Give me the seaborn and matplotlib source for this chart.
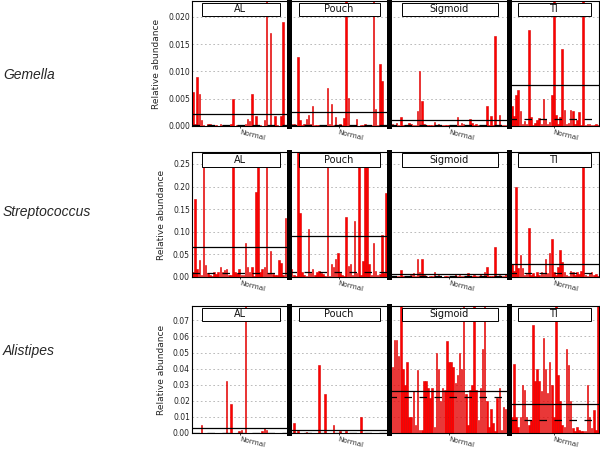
import numpy as np
import matplotlib
matplotlib.use("Agg")
import matplotlib.pyplot as plt
import seaborn as sns
from matplotlib.patches import Rectangle

# DATA (bars above the y-limit are clipped)
sites = ["AL", "Pouch", "Sigmoid", "TI"]
genera = ["Gemella", "Streptococcus", "Alistipes"]
tick_label = "Normal"

gemella_al = [0.0062, 0.0003, 0.0090, 0.0058, 0.0011, 0.0001, 0.0, 0.0003, 0.0003, 0.0001,
              0.0, 0.0001, 0.0, 0.0004, 0.0001, 0.0002, 0.0, 0.0001, 0.0003, 0.0050,
              0.0, 0.0001, 0.0001, 0.0, 0.0, 0.0004, 0.0013, 0.0009, 0.0058, 0.0002,
              0.0019, 0.0, 0.0001, 0.0, 0.0011, 0.0250, 0.0002, 0.0170, 0.0001, 0.0018,
              0.0002, 0.0, 0.0018, 0.0191, 0.0002, 0.0012]
gemella_pouch = [0.0031, 0.0003, 0.0004, 0.0001, 0.0127, 0.0011, 0.0002, 0.0004, 0.0012, 0.0020,
                 0.0003, 0.0036, 0.0001, 0.0002, 0.0001, 0.0, 0.0001, 0.0002, 0.0069, 0.0003,
                 0.0040, 0.0002, 0.0017, 0.0001, 0.0004, 0.0002, 0.0015, 0.0250, 0.0052, 0.0001,
                 0.0002, 0.0001, 0.0012, 0.0, 0.0001, 0.0002, 0.0003, 0.0001, 0.0002, 0.0001,
                 0.0250, 0.0031, 0.0002, 0.0113, 0.0082, 0.0001, 0.0002, 0.0036]
gemella_sigmoid = [0.0032, 0.0004, 0.0001, 0.0006, 0.0002, 0.0017, 0.0002, 0.0001, 0.0002, 0.0006,
                   0.0004, 0.0001, 0.0002, 0.0028, 0.0101, 0.0045, 0.0003, 0.0001, 0.0001, 0.0002,
                   0.0001, 0.0008, 0.0001, 0.0004, 0.0001, 0.0002, 0.0001, 0.0001, 0.0001, 0.0002,
                   0.0001, 0.0002, 0.0017, 0.0001, 0.0006, 0.0004, 0.0002, 0.0001, 0.0012, 0.0006,
                   0.0001, 0.0003, 0.0001, 0.0002, 0.0001, 0.0002, 0.0037, 0.0001, 0.0018, 0.0002,
                   0.0165, 0.0001, 0.0021, 0.0002, 0.0001, 0.0002, 0.0003]
gemella_ti = [0.0012, 0.0036, 0.0019, 0.0057, 0.0066, 0.0028, 0.0004, 0.0009, 0.0003, 0.0176,
              0.0016, 0.0002, 0.0006, 0.0011, 0.0014, 0.0004, 0.0049, 0.0012, 0.0003, 0.0008,
              0.0056, 0.0250, 0.0021, 0.0004, 0.0017, 0.0141, 0.0030, 0.0003, 0.0005, 0.0030,
              0.0028, 0.0003, 0.0011, 0.0026, 0.0002, 0.0250, 0.0002, 0.0003, 0.0004, 0.0002,
              0.0001, 0.0003, 0.0002]

strep_al = [0.012, 0.172, 0.018, 0.038, 0.005, 0.28, 0.026, 0.008, 0.004, 0.003,
            0.012, 0.006, 0.010, 0.023, 0.010, 0.015, 0.018, 0.004, 0.005, 0.28,
            0.010, 0.008, 0.018, 0.004, 0.005, 0.075, 0.022, 0.010, 0.022, 0.003,
            0.188, 0.28, 0.010, 0.018, 0.022, 0.28, 0.008, 0.057, 0.006, 0.005,
            0.004, 0.038, 0.030, 0.005, 0.130, 0.008]
strep_pouch = [0.035, 0.018, 0.004, 0.003, 0.28, 0.142, 0.010, 0.005, 0.002, 0.106,
               0.008, 0.018, 0.004, 0.010, 0.014, 0.008, 0.006, 0.002, 0.28, 0.003,
               0.028, 0.022, 0.040, 0.053, 0.008, 0.004, 0.002, 0.132, 0.025, 0.028,
               0.004, 0.123, 0.008, 0.28, 0.005, 0.035, 0.28, 0.28, 0.028, 0.004,
               0.075, 0.014, 0.004, 0.006, 0.093, 0.008, 0.185, 0.025]
strep_sigmoid = [0.004, 0.002, 0.001, 0.002, 0.003, 0.015, 0.002, 0.001, 0.002, 0.003,
                 0.005, 0.008, 0.002, 0.039, 0.010, 0.039, 0.005, 0.002, 0.001, 0.002,
                 0.003, 0.010, 0.002, 0.004, 0.002, 0.001, 0.003, 0.002, 0.001, 0.002,
                 0.003, 0.006, 0.002, 0.004, 0.002, 0.003, 0.002, 0.008, 0.002, 0.003,
                 0.004, 0.002, 0.003, 0.006, 0.002, 0.010, 0.022, 0.003, 0.002, 0.003,
                 0.066, 0.003, 0.004, 0.002, 0.003, 0.006, 0.002]
strep_ti = [0.008, 0.028, 0.013, 0.198, 0.020, 0.048, 0.020, 0.004, 0.006, 0.108,
            0.005, 0.008, 0.003, 0.010, 0.004, 0.010, 0.006, 0.039, 0.008, 0.054,
            0.083, 0.012, 0.004, 0.022, 0.059, 0.034, 0.010, 0.004, 0.003, 0.014,
            0.012, 0.004, 0.010, 0.006, 0.014, 0.28, 0.004, 0.003, 0.008, 0.010,
            0.004, 0.006, 0.003]

alis_al = [0.0, 0.0, 0.0, 0.0, 0.005, 0.0, 0.0, 0.0, 0.0, 0.0,
           0.0, 0.0, 0.0, 0.0, 0.0, 0.0, 0.032, 0.0, 0.018, 0.0,
           0.0, 0.0, 0.001, 0.002, 0.0, 0.085, 0.0, 0.0, 0.0, 0.0,
           0.0, 0.0, 0.0, 0.001, 0.003, 0.002, 0.0, 0.0, 0.0, 0.0003,
           0.0, 0.0, 0.0, 0.0, 0.0, 0.0]
alis_pouch = [0.0, 0.0, 0.006, 0.0, 0.001, 0.0, 0.0, 0.0, 0.0005, 0.0,
              0.0, 0.0, 0.0, 0.0, 0.042, 0.0, 0.0, 0.024, 0.0, 0.0,
              0.0, 0.005, 0.0, 0.0, 0.001, 0.0, 0.0, 0.001, 0.0, 0.0,
              0.0, 0.0, 0.0, 0.0, 0.010, 0.0, 0.0, 0.0, 0.0, 0.0002,
              0.0, 0.0, 0.0, 0.0, 0.0, 0.0, 0.0, 0.0]
alis_sigmoid = [0.045, 0.041, 0.058, 0.058, 0.048, 0.085, 0.040, 0.030, 0.044, 0.010,
                0.010, 0.026, 0.005, 0.039, 0.002, 0.002, 0.032, 0.032, 0.028, 0.022,
                0.028, 0.004, 0.050, 0.040, 0.020, 0.028, 0.027, 0.057, 0.044, 0.044,
                0.041, 0.031, 0.036, 0.050, 0.040, 0.085, 0.024, 0.005, 0.027, 0.030,
                0.085, 0.027, 0.008, 0.028, 0.052, 0.085, 0.020, 0.004, 0.015, 0.006,
                0.001, 0.022, 0.028, 0.002, 0.016, 0.015, 0.058]
alis_ti = [0.004, 0.010, 0.043, 0.010, 0.004, 0.010, 0.030, 0.027, 0.010, 0.005,
           0.008, 0.067, 0.032, 0.040, 0.032, 0.026, 0.059, 0.040, 0.025, 0.044,
           0.030, 0.010, 0.085, 0.036, 0.020, 0.005, 0.004, 0.052, 0.042, 0.020,
           0.003, 0.001, 0.004, 0.002, 0.001, 0.001, 0.001, 0.030, 0.010, 0.003,
           0.014, 0.002, 0.085]

# mean (solid) and median (dashed) reference lines per site
gemella_mean = [0.0022, 0.0026, 0.0011, 0.0076]
gemella_median = [0.0001, 0.0002, 0.0002, 0.0013]
strep_mean = [0.066, 0.091, 0.006, 0.029]
strep_median = [0.008, 0.010, 0.003, 0.009]
alis_mean = [0.0029, 0.0016, 0.026, 0.0178]
alis_median = [0.0, 0.0, 0.0224, 0.0083]

gemella_ticks = [0, 0.005, 0.010, 0.015, 0.020]
strep_ticks = [0, 0.05, 0.10, 0.15, 0.20, 0.25]
alis_ticks = [0, 0.01, 0.02, 0.03, 0.04, 0.05, 0.06, 0.07]

rows = [
    dict(values=[gemella_al, gemella_pouch, gemella_sigmoid, gemella_ti],
         mean=gemella_mean, median=gemella_median, ticks=gemella_ticks,
         ymax=0.0229, fmt="{:.3f}", box=(126, 1)),
    dict(values=[strep_al, strep_pouch, strep_sigmoid, strep_ti],
         mean=strep_mean, median=strep_median, ticks=strep_ticks,
         ymax=0.2765, fmt="{:.2f}", box=(277, 152)),
    dict(values=[alis_al, alis_pouch, alis_sigmoid, alis_ti],
         mean=alis_mean, median=alis_median, ticks=alis_ticks,
         ymax=0.0789, fmt="{:.2f}", box=(433, 306)),
]
label_y = [75, 212, 351]

# STYLE
sns.set_theme(style="white")
plt.rcParams['font.family'] = ['DejaVu Sans']

W, H = 600, 451
fig = plt.figure(figsize=(W / 100, H / 100), dpi=100)

x0, x1 = 192, 599
counts = [len(v) for v in rows[0]["values"]]
px_per_bar = (x1 - x0) / sum(counts)

for r, row in enumerate(rows):
    y_bot, y_top = row["box"]
    xpos = x0
    for c, site in enumerate(sites):
        vals = row["values"][c]
        n = len(vals)
        w = counts[c] * px_per_bar
        ax = fig.add_axes([xpos / W, 1 - y_bot / H, w / W, (y_bot - y_top) / H])
        xpos += w

        sns.barplot(x=np.arange(n), y=vals, color="#ff0000", saturation=1,
                    width=0.75, edgecolor="#d80000", linewidth=0.4, ax=ax)
        ax.set_xlim(-0.5, n - 0.5)
        ax.set_ylim(0, row["ymax"])

        ax.axhline(row["mean"][c], color="black", lw=0.9, zorder=4)
        ax.axhline(row["median"][c], color="black", lw=0.9, ls=(0, (6, 6)), zorder=4)

        ax.set_yticks(row["ticks"])
        ax.yaxis.grid(True, linestyle=(0, (2, 3)), color="#b0b0b0", lw=0.6)
        ax.set_axisbelow(True)
        if c == 0:
            ax.set_yticklabels([row["fmt"].format(t) for t in row["ticks"]])
            ax.set_ylabel("Relative abundance", fontsize=6.5,
                          family=['Liberation Sans Narrow', 'DejaVu Sans'], labelpad=5)
        else:
            ax.set_yticklabels([])
            ax.set_ylabel("")
        ax.tick_params(axis="y", length=0, pad=1.5, labelsize=5.5, colors="#222222")

        ax.set_xticks([(n - 1) / 2])
        ax.set_xticklabels([tick_label], rotation=-14, ha="left",
                           rotation_mode="anchor", fontsize=5.2, color="#333333")
        ax.tick_params(axis="x", length=1.5, width=0.6, pad=1, direction="out", bottom=True)
        ax.set_xlabel("")

        for s in ax.spines.values():
            s.set_color("black")
            s.set_linewidth(0.8)
        if c > 0:
            ax.spines["left"].set_linewidth(3.6)

        ax.add_patch(Rectangle((0.105, 0.88), 0.805, 0.108, transform=ax.transAxes,
                               facecolor="white", edgecolor="black", lw=0.7,
                               zorder=5, clip_on=False))
        ax.text(0.5, 0.934, site, transform=ax.transAxes, ha="center", va="center",
                fontsize=7, zorder=6, color="#111111")

for g, genus in enumerate(genera):
    fig.text(3 / W, 1 - label_y[g] / H, genus, style="italic", fontsize=10,
             family=['Liberation Sans', 'DejaVu Sans'], va="center", ha="left")

fig.savefig("out.png", dpi=100)
